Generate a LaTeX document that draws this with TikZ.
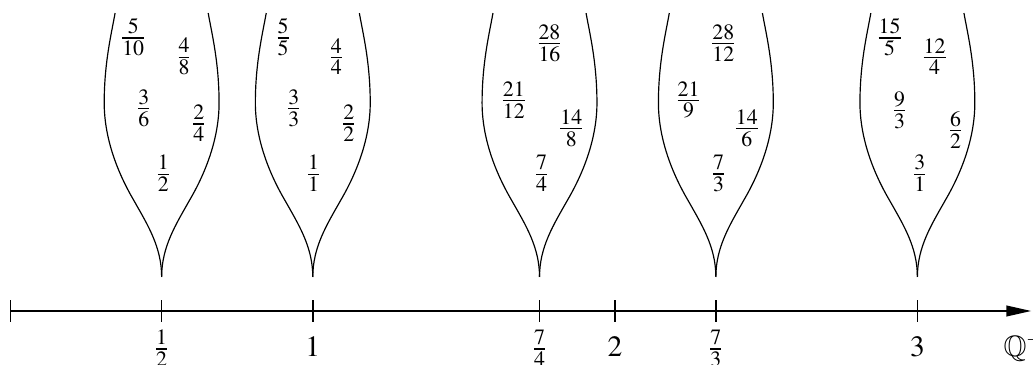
\documentclass[tikz,border=0pt]{standalone}
\usepackage{mathptmx}
\usepackage{amssymb}
\usetikzlibrary{arrows.meta}

\begin{document}
\begin{tikzpicture}[
  x=3.6cm,
  y=3.6cm,
  every node/.style={font=\normalsize},
  frac/.style={inner sep=1pt},
  ticklabel/.style={anchor=base, inner sep=0pt},
  axisline/.style={line width=0.7pt, -{Triangle[length=8.5pt,width=3.6pt]}},
  tickmark/.style={line width=0.55pt},
  bell/.pic={
    \draw[line width=0.4pt] (0,0) .. controls (0,0.099) and (-0.046,0.172) .. (-0.093,0.255)
      .. controls (-0.149,0.351) and (-0.190,0.463) .. (-0.190,0.576)
      .. controls (-0.190,0.711) and (-0.165,0.810) .. (-0.154,0.873);
    \draw[line width=0.4pt] (0,0) .. controls (0,0.099) and (0.046,0.172) .. (0.093,0.255)
      .. controls (0.149,0.351) and (0.190,0.463) .. (0.190,0.576)
      .. controls (0.190,0.711) and (0.165,0.810) .. (0.154,0.873);
  }
]
  \useasboundingbox (-0.0347,-0.1786) rectangle (3.3824,1.0288);

  % the line of positive rationals
  \coordinate (o) at (0,0);
  \coordinate (end) at (3.377,0);
  \draw[axisline] (o) -- (end);
  \foreach \v in {0,0.5,1,1.75,2,2.33333,3}
    \draw[tickmark] (\v,-0.035) -- (\v,0.035);

  \node[ticklabel] (lhalf) at (0.5,-0.15) {$\frac{1}{2}$};
  \node[ticklabel] (lone) at (1,-0.15) {$1$};
  \node[ticklabel] (lsevfour) at (1.75,-0.15) {$\frac{7}{4}$};
  \node[ticklabel] (ltwo) at (2,-0.15) {$2$};
  \node[ticklabel] (lsevthree) at (2.33333,-0.15) {$\frac{7}{3}$};
  \node[ticklabel] (lthree) at (3,-0.15) {$3$};
  \node[ticklabel, anchor=base west] (lq) at (3.283,-0.15) {$\mathbb{Q}^+$};

  % one class of fractions above each point
  \pic at (0.5,0.1125) {bell};
  \pic at (1,0.1125) {bell};
  \pic at (1.75,0.1125) {bell};
  \pic at (2.33333,0.1125) {bell};
  \pic at (3,0.1125) {bell};

  \node[frac] (ha) at (0.406,0.905) {$\frac{5}{10}$};
  \node[frac] (hb) at (0.574,0.841) {$\frac{4}{8}$};
  \node[frac] (hc) at (0.441,0.671) {$\frac{3}{6}$};
  \node[frac] (hd) at (0.623,0.621) {$\frac{2}{4}$};
  \node[frac] (he) at (0.506,0.455) {$\frac{1}{2}$};

  \node[frac] (oa) at (0.902,0.905) {$\frac{5}{5}$};
  \node[frac] (ob) at (1.078,0.841) {$\frac{4}{4}$};
  \node[frac] (oc) at (0.937,0.671) {$\frac{3}{3}$};
  \node[frac] (od) at (1.119,0.621) {$\frac{2}{2}$};
  \node[frac] (oe) at (1.003,0.455) {$\frac{1}{1}$};

  \node[frac] (fa) at (1.783,0.886) {$\frac{28}{16}$};
  \node[frac] (fb) at (1.665,0.698) {$\frac{21}{12}$};
  \node[frac] (fc) at (1.855,0.604) {$\frac{14}{8}$};
  \node[frac] (fd) at (1.757,0.455) {$\frac{7}{4}$};

  \node[frac] (ta) at (2.358,0.886) {$\frac{28}{12}$};
  \node[frac] (tb) at (2.243,0.698) {$\frac{21}{9}$};
  \node[frac] (tc) at (2.436,0.604) {$\frac{14}{6}$};
  \node[frac] (td) at (2.342,0.455) {$\frac{7}{3}$};

  \node[frac] (ra) at (2.908,0.905) {$\frac{15}{5}$};
  \node[frac] (rb) at (3.057,0.841) {$\frac{12}{4}$};
  \node[frac] (rc) at (2.941,0.665) {$\frac{9}{3}$};
  \node[frac] (rd) at (3.126,0.599) {$\frac{6}{2}$};
  \node[frac] (re) at (3.008,0.455) {$\frac{3}{1}$};
\end{tikzpicture}
\end{document}
